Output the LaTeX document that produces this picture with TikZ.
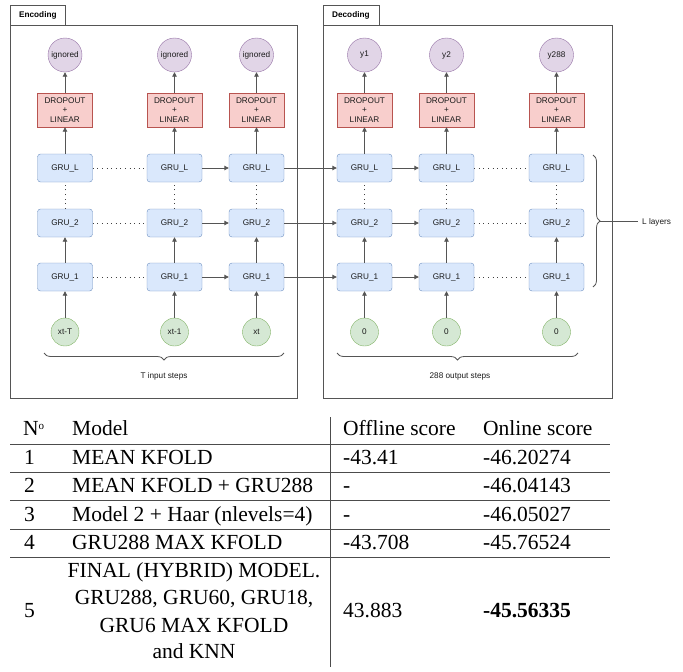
\documentclass[tikz,border=0pt]{standalone}
\usepackage{fontspec}
\setmainfont{Liberation Serif}
\newfontfamily\dsans{Liberation Sans}
\usetikzlibrary{arrows.meta,decorations.pathreplacing}
\definecolor{gruF}{HTML}{DAE8FC}\definecolor{gruS}{HTML}{6C8EBF}
\definecolor{dropF}{HTML}{F8CECC}\definecolor{dropS}{HTML}{B85450}
\definecolor{outF}{HTML}{E1D5E7}\definecolor{outS}{HTML}{9673A6}
\definecolor{inF}{HTML}{D5E8D4}\definecolor{inS}{HTML}{82B366}
\definecolor{lineC}{HTML}{555555}
\definecolor{txtC}{HTML}{1A1A1A}
\newcommand{\dfont}{\dsans\fontsize{8.2}{9.8}\selectfont}
\newcommand{\tfont}{\fontsize{21.5}{25}\selectfont}
\begin{document}
\begin{tikzpicture}[x=1pt,y=-1pt,
  gru/.style={draw=gruS, fill=gruF, rounded corners=3pt, minimum width=55pt, minimum height=28pt, inner sep=0pt, font=\dfont, text=txtC},
  drop/.style={draw=dropS, fill=dropF, minimum width=55pt, minimum height=34pt, inner sep=0pt, align=center, font=\dfont, text=txtC},
  outc/.style={circle, draw=outS, fill=outF, minimum size=34pt, inner sep=0pt, font=\dfont, text=txtC},
  inc/.style={circle, draw=inS, fill=inF, minimum size=28pt, inner sep=0pt, font=\dfont, text=txtC},
  arr/.style={draw=lineC, line width=0.9pt, -{Triangle[length=4.5pt,width=4.5pt]}},
  dotl/.style={draw=black!75, line width=1pt, dash pattern=on 1pt off 3.6pt},
  frame/.style={draw=lineC, line width=0.9pt},
  tabtxt/.style={font=\dsans\fontsize{8.2}{9.8}\selectfont\bfseries, anchor=west, inner sep=0pt},
  lbl/.style={font=\dfont, text=txtC, inner sep=0pt},
  brc/.style={draw=lineC, line width=0.8pt, decorate, decoration={brace, amplitude=7pt}},
  tcell/.style={font=\tfont, anchor=base west, inner sep=0pt},
  tcellc/.style={font=\tfont, anchor=base, inner sep=0pt},
  tline/.style={draw=black!70, line width=1pt}
]
\useasboundingbox (0,0) rectangle (683,672);
% frames and tabs
\draw[frame] (10,25) rectangle (297,398);
\draw[frame] (10,5) rectangle (65,25);
\node[tabtxt] (enclbl) at (19,15) {Encoding};
\draw[frame] (323,25) rectangle (612,398);
\draw[frame] (323,5) rectangle (379,25);
\node[tabtxt] (declbl) at (332,15) {Decoding};
% columns
\foreach \n/\x/\o/\i in {e1/65/ignored/xt-T, e2/174.5/ignored/xt-1, e3/256.5/ignored/xt, d1/364.5/y1/0, d2/446.5/y2/0, d3/556.5/y288/0} {
  \node[outc] (\n-o) at (\x,55) {\o};
  \node[drop] (\n-p) at (\x,110) {DROPOUT\\+\\LINEAR};
  \node[gru] (\n-L) at (\x,168) {GRU\_L};
  \node[gru] (\n-B) at (\x,223) {GRU\_2};
  \node[gru] (\n-A) at (\x,277) {GRU\_1};
  \node[inc] (\n-i) at (\x,332) {\i};
  \draw[arr] (\n-i) -- (\n-A);
  \draw[arr] (\n-A) -- (\n-B);
  \draw[dotl] (\n-B.north) -- (\n-L.south);
  \draw[arr] (\n-L) -- (\n-p);
  \draw[arr] (\n-p) -- (\n-o);
}
\foreach \r in {L,B,A} {
  \draw[dotl] (e1-\r) -- (e2-\r);
  \draw[arr] (e2-\r) -- (e3-\r);
  \draw[arr] (e3-\r) -- (d1-\r);
  \draw[arr] (d1-\r) -- (d2-\r);
  \draw[dotl] (d2-\r) -- (d3-\r);
}
% braces
\coordinate (eb1) at (44,353); \coordinate (eb2) at (284,353);
\draw[brc, decoration={mirror}] (eb1) -- (eb2);
\node[lbl] (einsteps) at (164,376) {T input steps};
\coordinate (db1) at (337,353); \coordinate (db2) at (578,353);
\draw[brc, decoration={mirror}] (db1) -- (db2);
\node[lbl] (doutsteps) at (460,376) {288 output steps};
\coordinate (rb1) at (593,155); \coordinate (rb2) at (593,287);
\draw[brc] (rb1) -- (rb2);
\coordinate (ltip) at (600,221); \coordinate (lend) at (638,221);
\draw[draw=lineC, line width=0.8pt] (ltip) -- (lend);
\node[lbl, anchor=west] (llayers) at (642,222) {L layers};
% table
\coordinate (vt) at (330.5,417); \coordinate (vb) at (330.5,667);
\draw[tline] (vt) -- (vb);
\foreach \k/\yy in {h/444, a/472.5, b/500.5, c/529, d/557} {
  \coordinate (tl\k) at (10,\yy); \coordinate (tr\k) at (610,\yy);
  \draw[tline] (tl\k) -- (tr\k);
}
\node[tcell] (h1) at (23,435) {N\raisebox{0.55ex}{\fontsize{11}{12}\selectfont o}};
\node[tcell] (h2) at (72,435) {Model};
\node[tcell] (h3) at (343,435) {Offline score};
\node[tcell] (h4) at (483,435) {Online score};
\node[tcell] (r1a) at (24,464) {1};
\node[tcell] (r1b) at (72,464) {MEAN KFOLD};
\node[tcell] (r1c) at (343,464) {-43.41};
\node[tcell] (r1d) at (483,464) {-46.20274};
\node[tcell] (r2a) at (24,492) {2};
\node[tcell] (r2b) at (72,492) {MEAN KFOLD + GRU288};
\node[tcell] (r2c) at (343,492) {-};
\node[tcell] (r2d) at (483,492) {-46.04143};
\node[tcell] (r3a) at (24,521) {3};
\node[tcell] (r3b) at (72,521) {Model 2 + Haar (nlevels=4)};
\node[tcell] (r3c) at (343,521) {-};
\node[tcell] (r3d) at (483,521) {-46.05027};
\node[tcell] (r4a) at (24,549) {4};
\node[tcell] (r4b) at (72,549) {GRU288 MAX KFOLD};
\node[tcell] (r4c) at (343,549) {-43.708};
\node[tcell] (r4d) at (483,549) {-45.76524};
\node[tcell] (r5a) at (24,617) {5};
\node[tcellc] (r5b1) at (194,577) {FINAL (HYBRID) MODEL.};
\node[tcellc] (r5b2) at (194,604) {GRU288, GRU60, GRU18,};
\node[tcellc] (r5b3) at (194,632) {GRU6 MAX KFOLD};
\node[tcellc] (r5b4) at (194,658) {and KNN};
\node[tcell] (r5c) at (343,617) {43.883};
\node[tcell] (r5d) at (483,617) {\textbf{-45.56335}};
\end{tikzpicture}
\end{document}
